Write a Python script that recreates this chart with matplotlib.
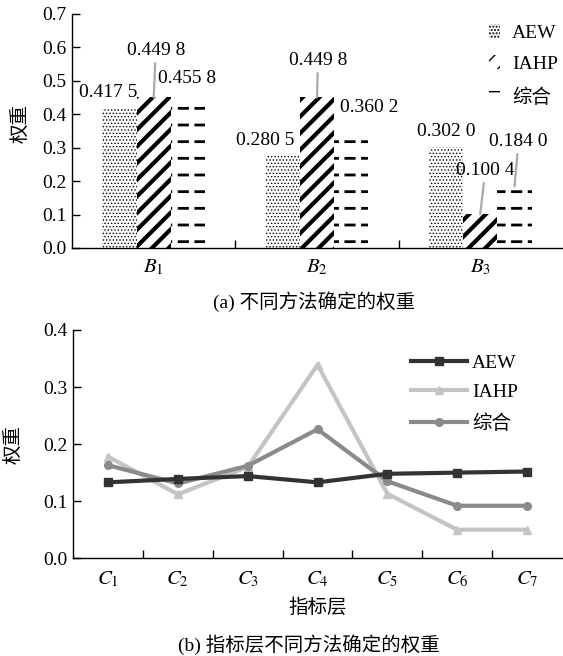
import matplotlib
matplotlib.use('Agg')
import matplotlib.pyplot as plt
import numpy as np

plt.rcParams['font.family'] = 'Liberation Serif'
plt.rcParams['mathtext.fontset'] = 'stix'
plt.rcParams['font.size'] = 14
CJK = 'Noto Sans CJK SC'
MIX = ['Liberation Serif', 'Noto Sans CJK SC']

# data, panel (a)
groups = ['B_1', 'B_2', 'B_3']
aew_b = [0.4175, 0.2805, 0.3020]
iahp_b = [0.4498, 0.4498, 0.1004]
comb_b = [0.4558, 0.3602, 0.1840]
series_names = ['AEW', 'IAHP', '综合']

# data, panel (b)
indicators = ['C_1', 'C_2', 'C_3', 'C_4', 'C_5', 'C_6', 'C_7']
aew_c = [0.133, 0.139, 0.144, 0.133, 0.148, 0.150, 0.152]
iahp_c = [0.178, 0.112, 0.160, 0.339, 0.113, 0.050, 0.050]
comb_c = [0.163, 0.131, 0.162, 0.226, 0.135, 0.092, 0.092]

# label offsets in pixels (dx, dy) and whether a leader line is drawn
lab_off = [[(-11, 16), (-17, 14), (0, 15)],
           [(2, 47), (1, 37), (5, 44)],
           [(-1, 17), (18, 20), (4, 45)]]
leader = [[False, False, False],
          [True, True, True],
          [False, False, True]]


def fmt(v):
    s = '%.4f' % v
    return s[:-1] + ' ' + s[-1]


def hatched_bar(ax, x, h, w, hatch, hlw, color='black', **kw):
    with plt.rc_context({'hatch.linewidth': hlw, 'hatch.color': color}):
        bars = ax.bar(x, h, w, facecolor=kw.pop('facecolor', 'white'),
                      edgecolor=color, linewidth=0, hatch=hatch, **kw)
        for b in bars:
            if hasattr(b, 'set_hatch_linewidth'):
                b.set_hatch_linewidth(hlw)
    return bars


fig = plt.figure(figsize=(5.63, 6.56), dpi=100)

# ---------- panel (a)
ax1 = fig.add_axes([0.128, 0.622, 0.870, 0.357])
x = np.arange(1, len(groups) + 1)
w = 0.21
b_aew = hatched_bar(ax1, x - w, aew_b, w, '.....', 0.6, label=series_names[0])
b_iahp = hatched_bar(ax1, x, iahp_b, w, '//', 3.0, label=series_names[1])
b_comb = hatched_bar(ax1, x + w, comb_b, w, '-', 2.0, label=series_names[2])
# break the horizontal lines into dashes
hatched_bar(ax1, x + w, comb_b, w, '|', 4.0, color='white', facecolor='none')

for si, (vals, xs) in enumerate([(aew_b, x - w), (iahp_b, x), (comb_b, x + w)]):
    for gi in range(len(groups)):
        dx, dy = lab_off[si][gi]
        props = None
        if leader[si][gi]:
            props = dict(arrowstyle='-', color='#aaaaaa', lw=1.6,
                         shrinkA=1, shrinkB=0)
        ax1.annotate(fmt(vals[gi]), xy=(xs[gi], vals[gi]), xytext=(dx, dy),
                     textcoords='offset pixels', ha='center', va='center',
                     fontsize=14, arrowprops=props)

ax1.set_xlim(0.5, 3.5)
ax1.set_ylim(0, 0.7)
ax1.set_yticks(np.arange(0, 0.71, 0.1))
ax1.set_yticklabels(['%.1f' % v for v in np.arange(0, 0.71, 0.1)])
ax1.set_xticks(x)
ax1.set_xticklabels(['$%s$' % g for g in groups], fontsize=15)
ax1.set_xticks([1.5, 2.5], minor=True)
ax1.tick_params(axis='x', which='major', length=0, pad=7)
ax1.tick_params(axis='x', which='minor', length=6, direction='in', width=1.0)
ax1.tick_params(axis='y', length=6, direction='in', width=1.0, pad=4)
ax1.spines['top'].set_visible(False)
ax1.spines['right'].set_visible(False)
for s in ['left', 'bottom']:
    ax1.spines[s].set_linewidth(1.0)
ax1.set_ylabel('权重', va='center', family=CJK)
ax1.yaxis.set_label_coords(-0.105, 0.53)
leg1 = ax1.legend(handles=[b_aew, b_iahp, b_comb], loc='upper left',
                  bbox_to_anchor=(0.815, 1.03), frameon=False,
                  handlelength=0.6, handleheight=0.7, handletextpad=0.6,
                  labelspacing=0.7, fontsize=14)
leg1.get_texts()[2].set_family(CJK)

fig.text(0.558, 0.540, '(a) 不同方法确定的权重', ha='center', va='center',
         fontsize=14, family=MIX)

# ---------- panel (b)
ax2 = fig.add_axes([0.130, 0.149, 0.868, 0.348])
xc = np.arange(1, len(indicators) + 1)
ax2.plot(xc, aew_c, color='#333333', lw=3.0, marker='s', ms=5.5, label=series_names[0], zorder=3)
ax2.plot(xc, iahp_c, color='#c4c4c4', lw=3.0, marker='^', ms=5.5, label=series_names[1], zorder=2)
ax2.plot(xc, comb_c, color='#8a8a8a', lw=3.0, marker='o', ms=5.5, label=series_names[2], zorder=2.5)

ax2.set_xlim(0.5, 7.5)
ax2.set_ylim(0, 0.4)
ax2.set_yticks(np.arange(0, 0.41, 0.1))
ax2.set_yticklabels(['%.1f' % v for v in np.arange(0, 0.41, 0.1)])
ax2.set_xticks(xc)
ax2.set_xticklabels(['$%s$' % c for c in indicators], fontsize=15)
ax2.set_xticks(np.arange(1.5, 7, 1), minor=True)
ax2.tick_params(axis='x', which='major', length=0, pad=8)
ax2.tick_params(axis='x', which='minor', length=6, direction='in', width=1.0)
ax2.tick_params(axis='y', length=6, direction='in', width=1.0, pad=4)
ax2.spines['top'].set_visible(False)
ax2.spines['right'].set_visible(False)
for s in ['left', 'bottom']:
    ax2.spines[s].set_linewidth(1.0)
ax2.set_ylabel('权重', va='center', family=CJK)
ax2.yaxis.set_label_coords(-0.122, 0.5)
ax2.set_xlabel('指标层', labelpad=6, family=CJK)
leg2 = ax2.legend(loc='upper left', bbox_to_anchor=(0.655, 0.97), frameon=False,
                  handlelength=2.9, handletextpad=0.25, labelspacing=0.6, fontsize=14)
leg2.get_texts()[2].set_family(CJK)

fig.text(0.549, 0.018, '(b) 指标层不同方法确定的权重', ha='center', va='center',
         fontsize=14, family=MIX)

fig.savefig('out.png', dpi=100)
